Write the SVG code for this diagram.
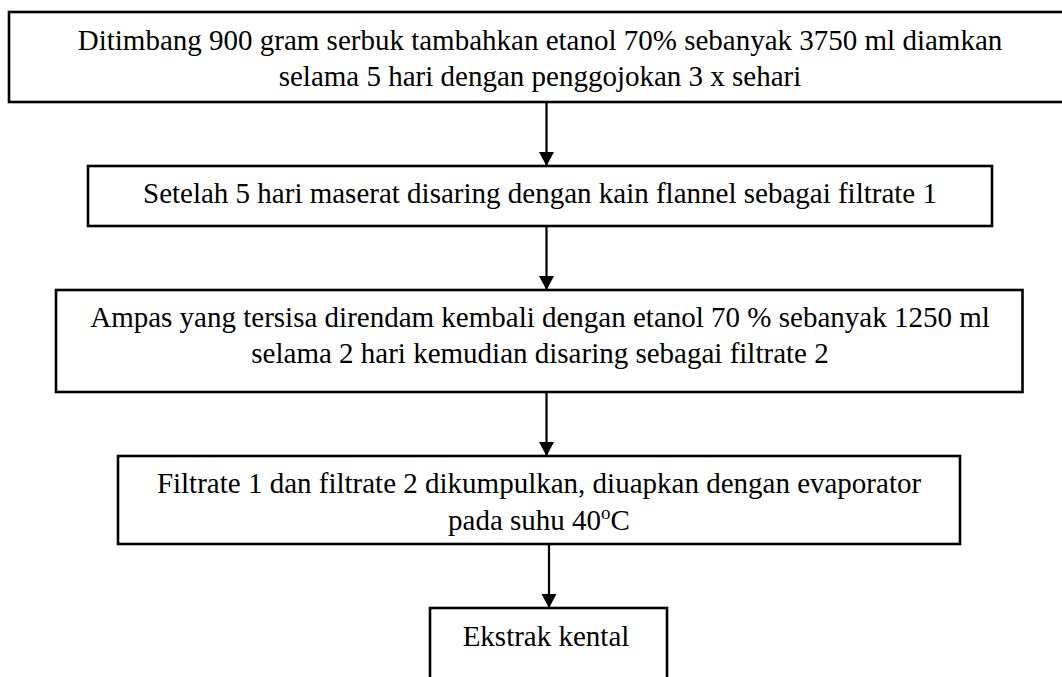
<svg xmlns="http://www.w3.org/2000/svg" width="1062" height="677" viewBox="0 0 1062 677">
<style>
.box{fill:#fff;stroke:#000;stroke-width:2.6}
.t{font-family:"Liberation Serif","Times New Roman",serif;font-size:29px;fill:#000;text-anchor:middle}
.c{stroke:#000;stroke-width:2.2;fill:none}
</style>
<defs>
<marker id="ah" markerUnits="userSpaceOnUse" markerWidth="16" markerHeight="16" refX="14" refY="7.5" orient="auto">
<path d="M0,0 L14,7.5 L0,15 Z" fill="#000"/>
</marker>
</defs>
<rect width="1062" height="677" fill="#fff"/>
<g id="connectors">
<line class="c" x1="546.5" y1="102" x2="546.5" y2="166" marker-end="url(#ah)"/>
<line class="c" x1="546.5" y1="226" x2="546.5" y2="290" marker-end="url(#ah)"/>
<line class="c" x1="546.5" y1="392" x2="546.5" y2="456" marker-end="url(#ah)"/>
<line class="c" x1="549" y1="544" x2="549" y2="608" marker-end="url(#ah)"/>
</g>
<g id="n1">
<rect class="box" x="9" y="12" width="1062" height="90"/>
<text class="t" x="540" y="50">Ditimbang 900 gram serbuk tambahkan etanol 70% sebanyak 3750 ml diamkan</text>
<text class="t" x="540" y="86">selama 5 hari dengan penggojokan 3 x sehari</text>
</g>
<g id="n2">
<rect class="box" x="88" y="166" width="904" height="60"/>
<text class="t" x="540" y="203">Setelah 5 hari maserat disaring dengan kain flannel sebagai filtrate 1</text>
</g>
<g id="n3">
<rect class="box" x="56" y="290" width="966.5" height="102"/>
<text class="t" x="540" y="327">Ampas yang tersisa direndam kembali dengan etanol 70 % sebanyak 1250 ml</text>
<text class="t" x="540" y="363">selama 2 hari kemudian disaring sebagai filtrate 2</text>
</g>
<g id="n4">
<rect class="box" x="118" y="456" width="842" height="88"/>
<text class="t" x="539" y="493">Filtrate 1 dan filtrate 2 dikumpulkan, diuapkan dengan evaporator</text>
<text class="t" x="539" y="530">pada suhu 40<tspan font-size="19" dy="-11">o</tspan><tspan dy="11">C</tspan></text>
</g>
<g id="n5">
<rect class="box" x="430" y="608" width="237" height="100"/>
<text class="t" x="546" y="646">Ekstrak kental</text>
</g>
</svg>
